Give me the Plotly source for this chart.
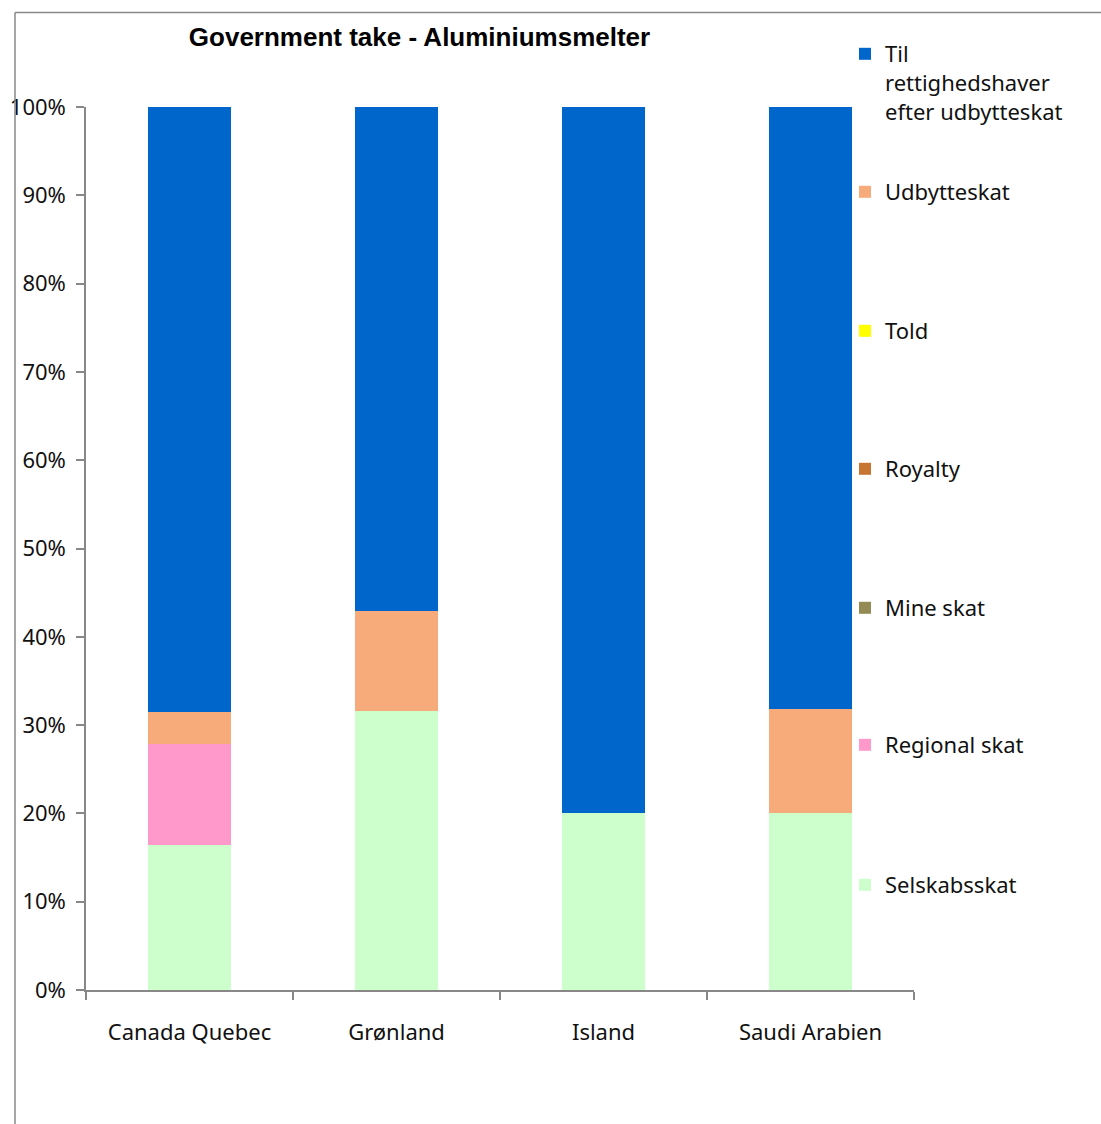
import plotly.graph_objects as go

# Categories and stacked shares (percent of profit)
countries = ["Canada Quebec", "Grønland", "Island", "Saudi Arabien"]

selskabsskat = [16.4, 31.6, 20.0, 20.0]
regional_skat = [11.5, 0.0, 0.0, 0.0]
mine_skat = [0.0, 0.0, 0.0, 0.0]
royalty = [0.0, 0.0, 0.0, 0.0]
told = [0.0, 0.0, 0.0, 0.0]
udbytteskat = [3.6, 11.3, 0.0, 11.8]
til_rettighedshaver = [68.5, 57.1, 80.0, 68.2]

y_ticks = [0, 10, 20, 30, 40, 50, 60, 70, 80, 90, 100]

series = [
    ("Selskabsskat", selskabsskat, "#CCFFCC"),
    ("Regional skat", regional_skat, "#FF99CC"),
    ("Mine skat", mine_skat, "#948A54"),
    ("Royalty", royalty, "#C87533"),
    ("Told", told, "#FFFF00"),
    ("Udbytteskat", udbytteskat, "#F8AB7A"),
    ("Til<br>rettighedshaver<br>efter udbytteskat", til_rettighedshaver, "#0066CC"),
]

# Figure canvas and plot-area pixel frame
W, H = 1101, 1124
L, R, T, B = 86, 914, 107, 990
pw, ph = R - L, B - T


def px_x(x):
    return (x - L) / pw


def px_y(y):
    return (B - y) / ph


FONT = "Noto Sans, DejaVu Sans, sans-serif"

# each legend entry sits at its own height along the right side
legend_rows = {
    "Selskabsskat": 885,
    "Regional skat": 745,
    "Mine skat": 608,
    "Royalty": 469,
    "Told": 331,
    "Udbytteskat": 192,
}

fig = go.Figure()
legend_layout = {}
for i, (name, vals, color) in enumerate(series):
    lname = "legend" if i == 0 else f"legend{i + 1}"
    fig.add_trace(go.Bar(
        x=countries, y=vals, name=name, width=0.4,
        marker=dict(color=color, line=dict(width=0)),
        legend=lname,
    ))
    if name in legend_rows:
        ypos, yanchor = px_y(legend_rows[name]), "middle"
    else:
        ypos, yanchor = px_y(33), "top"
    legend_layout[lname] = dict(
        x=px_x(845), xanchor="left", y=ypos, yanchor=yanchor,
        bgcolor="rgba(0,0,0,0)", borderwidth=0, valign="top",
        font=dict(family=FONT, size=22, color="#111111"),
        tracegroupgap=0, itemclick=False,
    )

fig.update_layout(
    width=W, height=H,
    margin=dict(l=L, r=W - R, t=T, b=H - B, pad=0, autoexpand=False),
    paper_bgcolor="white", plot_bgcolor="white",
    barmode="stack",
    showlegend=True,
    title=dict(
        text="<b>Government take - Aluminiumsmelter</b>",
        x=419.5 / W, xanchor="center", y=1 - 37 / H, yanchor="middle",
        font=dict(family="Liberation Sans, Arial, sans-serif", size=26, color="#000000"),
    ),
    xaxis=dict(
        type="category", range=[-0.5, 3.5], automargin=False,
        showline=True, linecolor="#888888", linewidth=1.5,
        ticks="outside", ticklen=8, tickcolor="#888888", tickwidth=1.5,
        tickson="boundaries", showgrid=False, zeroline=False,
        tickfont=dict(family=FONT, size=22, color="#111111"),
        ticklabelstandoff=22,
    ),
    yaxis=dict(
        range=[0, 100], tickvals=y_ticks, ticktext=[f"{v}%" for v in y_ticks],
        automargin=False,
        showline=True, linecolor="#888888", linewidth=1.5,
        ticks="outside", ticklen=8, tickcolor="#888888", tickwidth=1.5,
        showgrid=False, zeroline=False,
        tickfont=dict(family=FONT, size=22, color="#111111"),
        ticklabelstandoff=6,
    ),
    **legend_layout,
)

# outer chart frame (left and top edges)
fig.add_shape(type="line", xref="paper", yref="paper",
              x0=px_x(15), x1=px_x(1101), y0=px_y(12.5), y1=px_y(12.5),
              line=dict(color="#888888", width=1.5))
fig.add_shape(type="line", xref="paper", yref="paper",
              x0=px_x(15), x1=px_x(15), y0=px_y(12.5), y1=px_y(1124),
              line=dict(color="#888888", width=1.5))

fig.write_html("out.html")
